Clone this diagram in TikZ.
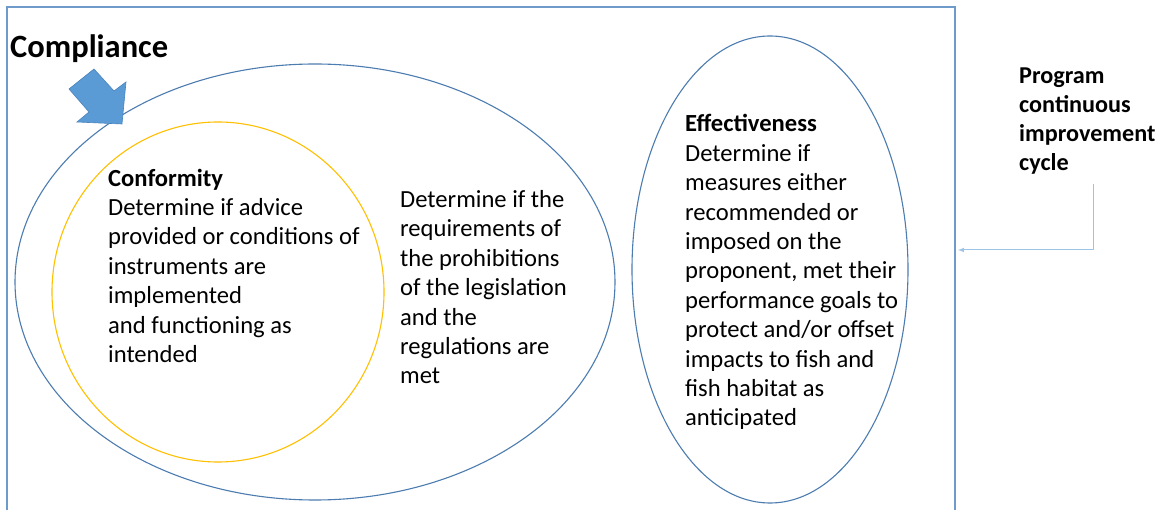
\documentclass[tikz,border=0pt]{standalone}
\usepackage{fontspec}
\setmainfont{Carlito}
\begin{document}
\begin{tikzpicture}[x=1pt,y=-1pt]
\definecolor{rimblue}{HTML}{6F9BCB}
\definecolor{lineblue}{HTML}{4C7CB0}
\definecolor{ringgold}{HTML}{FFC000}
\definecolor{arrowfill}{HTML}{5B9BD5}
\definecolor{arrowedge}{HTML}{4A84BF}
\definecolor{cyclelink}{HTML}{9DC3E6}
\tikzset{
  outline/.style={draw=lineblue, line width=1.1pt},
  goldring/.style={draw=ringgold, line width=1.1pt},
  bodytext/.style={anchor=north west, inner sep=0pt, align=left,
    font=\fontsize{24.6}{29.4}\selectfont},
  headtext/.style={anchor=base west, inner sep=0pt,
    font=\fontsize{32.5}{38}\selectfont\bfseries},
  linkline/.style={draw=cyclelink, line width=1pt, -latex}
}
\useasboundingbox (0,0) rectangle (1160,510);
\fill[white] (0,0) rectangle (1160,510);

% open frame around the compliance area
\draw[draw=rimblue, line width=1.2pt] (7,520) -- (7,7) -- (955,7) -- (955,520);

% nested compliance / conformity ellipses and the effectiveness ellipse
\draw[outline] (315,282) ellipse [x radius=300, y radius=218];
\draw[goldring] (218,292) ellipse [x radius=166, y radius=170];
\draw[outline] (770,269.5) ellipse [x radius=138, y radius=233.5];

% block arrow pointing into the compliance ellipse
\filldraw[fill=arrowfill, draw=arrowedge, line width=0.6pt, line join=miter]
  (69,89) -- (94,69) -- (114,91) -- (126,82) -- (122,124) -- (77,122) -- (89,112) -- cycle;

\node[headtext] (title) at (10,58) {Compliance};

\node[bodytext] (conf) at (108,165.4) {\strut\textbf{Conformity}\\
  Determine if advice\\
  provided or conditions of\\
  instruments are\\
  implemented\\
  and functioning as\\
  intended};

\node[bodytext] (legal) at (400,186.7) {\strut Determine if the\\
  requirements of\\
  the prohibitions\\
  of the legislation\\
  and the\\
  regulations are\\
  met};

\node[bodytext] (eff) at (685,111.1) {\strut\textbf{Effectiveness}\\
  Determine if\\
  measures either\\
  recommended or\\
  imposed on the\\
  proponent, met their\\
  performance goals to\\
  protect and/or offset\\
  impacts to fish and\\
  fish habitat as\\
  anticipated};

\node[bodytext, font=\fontsize{24.2}{29}\selectfont\bfseries] (prog) at (1019,62.7)
  {\strut Program\\ continuous\\ improvement\\ cycle};

% feedback link from the improvement cycle back to the frame
\coordinate (cyc) at (1093,184);
\coordinate (rim) at (958,250);
\draw[linkline] (cyc) |- (rim);
\end{tikzpicture}
\end{document}
